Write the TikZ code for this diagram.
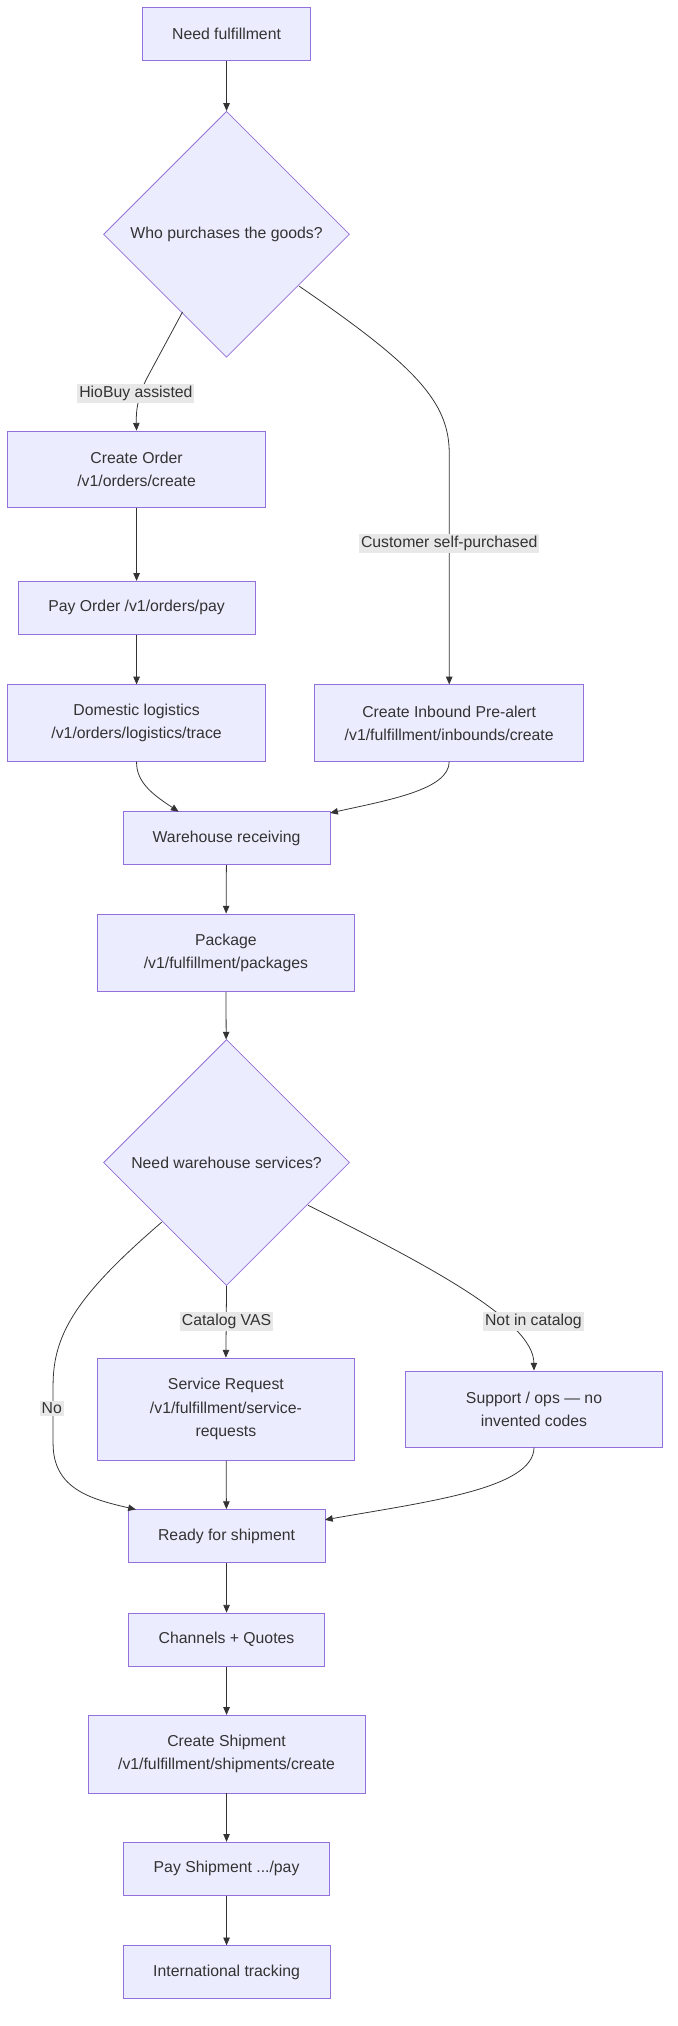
\documentclass[tikz,border=0pt]{standalone}
\usepackage{fontspec}
\setmainfont{Liberation Sans}
\usetikzlibrary{shapes.geometric,arrows.meta}
\definecolor{nfill}{HTML}{ECECFF}
\definecolor{nline}{HTML}{9370DB}
\definecolor{txt}{HTML}{333333}
\definecolor{lbg}{HTML}{E8E8E8}
\begin{document}
\begin{tikzpicture}[x=1pt,y=1pt,
  font=\fontsize{12.2}{18}\selectfont, text=txt,
  box/.style={draw=nline,fill=nfill,line width=0.6pt,align=center,inner sep=0pt},
  dia/.style={draw=nline,fill=nfill,line width=0.6pt,diamond,aspect=1,inner sep=0pt,minimum size=190pt},
  lab/.style={fill=lbg,inner sep=1.5pt,font=\fontsize{12.2}{14}\selectfont},
  arr/.style={draw=txt,line width=0.6pt,-{Triangle[length=6pt,width=5pt]}}]
\useasboundingbox (0,0) rectangle (523,-1565);
\newcommand{\bx}[6]{\node[box,minimum width=#4pt,minimum height=#5pt] (#1) at (#2,-#3) {#6};}
\bx{A}{175}{26.5}{130}{41}{Need fulfillment}
\node[dia] (B) at (175,-181) {Who purchases the goods?};
\bx{C}{105.5}{362.5}{199}{59}{Create Order\\/v1/orders/create}
\bx{D}{105.5}{469.5}{183}{41}{Pay Order /v1/orders/pay}
\bx{E}{105.5}{558.5}{199}{59}{Domestic logistics\\/v1/orders/logistics/trace}
\bx{F}{347}{558.5}{208}{59}{Create Inbound Pre-alert\\/v1/fulfillment/inbounds/create}
\bx{G}{175}{647.5}{160}{41}{Warehouse receiving}
\bx{H}{174.5}{736}{199}{60}{Package\\/v1/fulfillment/packages}
\node[dia] (I) at (175,-898) {Need warehouse services?};
\bx{J}{174.5}{1088.5}{199}{79}{Service Request\\/v1/fulfillment/service-\\requests}
\bx{K}{412.5}{1088.5}{199}{59}{Support / ops — no\\invented codes}
\bx{L}{175}{1186.5}{152}{41}{Ready for shipment}
\bx{M}{175}{1266.5}{151}{41}{Channels + Quotes}
\bx{N}{175}{1355}{214}{60}{Create Shipment\\/v1/fulfillment/shipments/create}
\bx{O}{175}{1443.5}{159}{41}{Pay Shipment .../pay}
\bx{P}{175}{1523.5}{160}{41}{International tracking}
\coordinate (c1) at (105,-333);
\coordinate (f1) at (347,-529);
\draw[arr] (A) -- (B);
\draw[arr] (141,-241) -- (113,-293) .. controls (106,-308) and (105,-318) .. (C.north);
\draw[arr] (231,-221) .. controls (320,-282) and (347,-310) .. (347,-350) -- (F.north);
\draw[arr] (C) -- (D);
\draw[arr] (D) -- (E);
\draw[arr] (E.south) .. controls (105,-605) and (120,-615) .. (138,-627);
\draw[arr] (F.south) .. controls (347,-610) and (300,-618) .. (255,-628);
\draw[arr] (G) -- (H);
\draw[arr] (H) -- (I);
\draw[arr] (I.south) -- (J.north);
\draw[arr] (238,-931) .. controls (330,-977) and (412,-1020) .. (K.north);
\draw[arr] (125,-944) .. controls (60,-1000) and (41,-1030) .. (41,-1070) -- (41,-1115) .. controls (41,-1150) and (70,-1158) .. (105,-1166);
\draw[arr] (K.south) .. controls (412,-1150) and (330,-1160) .. (251,-1174);
\draw[arr] (J) -- (L);
\draw[arr] (L) -- (M);
\draw[arr] (M) -- (N);
\draw[arr] (N) -- (O);
\draw[arr] (O) -- (P);
\node[lab] (l1) at (105,-304) {HioBuy assisted};
\node[lab] (l2) at (347,-420) {Customer self-purchased};
\node[lab] (l3) at (175,-1021) {Catalog VAS};
\node[lab] (l4) at (412,-1021) {Not in catalog};
\node[lab] (l5) at (40,-1088) {No};
\end{tikzpicture}
\end{document}
